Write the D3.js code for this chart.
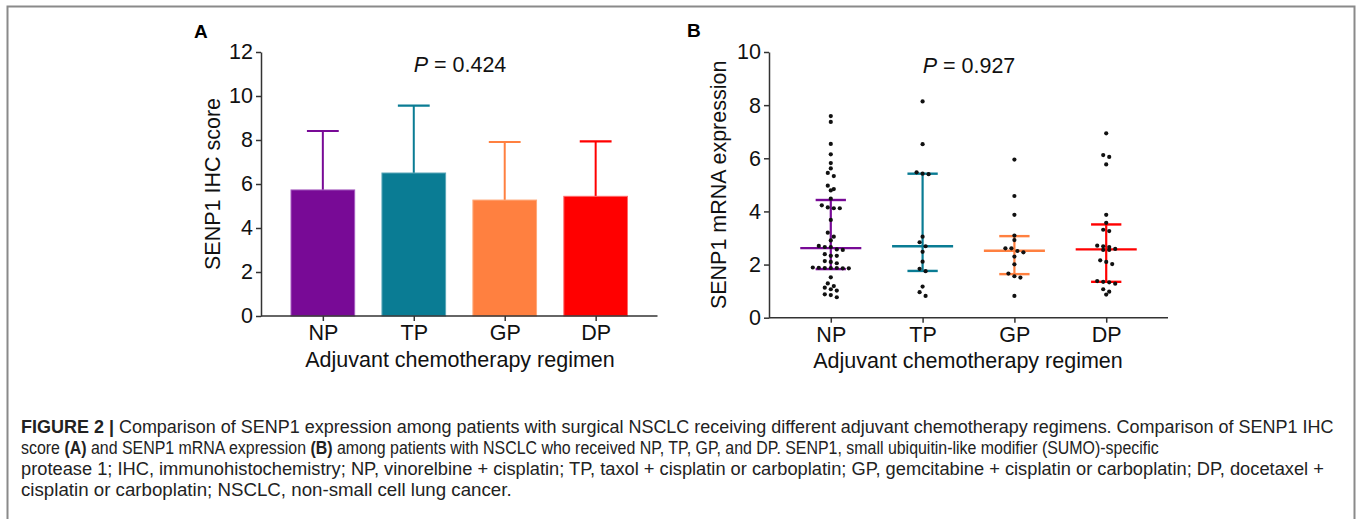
<!DOCTYPE html>
<html>
<head>
<meta charset="utf-8">
<script src="https://cdn.jsdelivr.net/npm/d3@7/dist/d3.min.js"></script>
<style>
  html, body { margin: 0; padding: 0; background: #fff; }
  svg { display: block; }
  text { font-family: "Liberation Sans", Arial, Helvetica, sans-serif; }
</style>
</head>
<body>
<svg id="fig" width="1357" height="519"></svg>
<script>
// ---------------- DATA ----------------
const categories = ["NP", "TP", "GP", "DP"];

// Panel A: SENP1 IHC score (mean and upper SD)
const ihcMean  = [5.73, 6.50, 5.27, 5.44];
const ihcUpper = [8.41, 9.56, 7.91, 7.94];
const ihcTicks = [0, 2, 4, 6, 8, 10, 12];
const ihcPLabel = "0.424";

// Panel B: SENP1 mRNA expression (individual patients)
const mrnaNP = [7.59, 7.37, 6.54, 6.15, 5.82, 5.62, 5.45, 5.33, 4.97, 4.84, 4.79, 4.48,
                4.23, 4.12, 4.12, 4.15, 3.68, 3.20, 3.05, 2.91, 2.70, 2.66, 2.57, 2.66,
                2.55, 2.39, 2.33, 2.33, 2.13, 2.10, 2.05, 1.89, 1.87, 1.87, 1.86, 1.86,
                1.87, 1.88, 1.52, 1.29, 1.19, 1.13, 1.07, 1.02, 0.88, 0.85, 0.77];
const mrnaTP = [8.14, 6.53, 5.47, 5.40, 5.42, 3.05, 2.84, 2.69, 2.48, 2.11, 1.84, 1.75,
                1.17, 0.96, 0.82];
const mrnaGP = [5.95, 4.58, 3.87, 3.09, 2.92, 2.61, 2.61, 2.46, 2.51, 2.30, 2.01, 1.66,
                1.56, 1.51, 0.82];
const mrnaDP = [6.94, 6.12, 6.05, 5.77, 3.87, 3.57, 3.31, 3.26, 2.71, 2.66, 2.69, 2.59,
                2.55, 2.55, 2.16, 2.10, 2.02, 1.38, 1.33, 1.28, 1.35, 1.07, 0.98, 0.87];
const mrnaMedian = [2.62, 2.69, 2.52, 2.57];
const mrnaQ1     = [1.83, 1.76, 1.64, 1.35];
const mrnaQ3     = [4.43, 5.42, 3.07, 3.51];
const mrnaTicks  = [0, 2, 4, 6, 8, 10];
const mrnaPLabel = "0.927";

const xTitle = "Adjuvant chemotherapy regimen";
const yTitleA = "SENP1 IHC score";
const yTitleB = "SENP1 mRNA expression";

const captionLines = [
  [["FIGURE 2 | ", true], ["Comparison of SENP1 expression among patients with surgical NSCLC receiving different adjuvant chemotherapy regimens. Comparison of SENP1 IHC", false]],
  [["score ", false], ["(A)", true], [" and SENP1 mRNA expression ", false], ["(B)", true], [" among patients with NSCLC who received NP, TP, GP, and DP. SENP1, small ubiquitin-like modifier (SUMO)-specific", false]],
  [["protease 1; IHC, immunohistochemistry; NP, vinorelbine + cisplatin; TP, taxol + cisplatin or carboplatin; GP, gemcitabine + cisplatin or carboplatin; DP, docetaxel +", false]],
  [["cisplatin or carboplatin; NSCLC, non-small cell lung cancer.", false]]
];

// ---------------- STYLE ----------------
const groupColors = ["#780a96", "#0a7c94", "#ff8040", "#ff0000"];
const groupStroke = ["#a55bc0", "#5aa6b8", "#ffa879", "#ff6a6a"];
const axisColor = "#333";
const fs = 21.5;

const svg = d3.select("#fig");

// Frame
svg.append("path")
  .attr("d", "M7.5,519 V6.5 H1354.5 V519")
  .attr("fill", "none").attr("stroke", "#8a8a8a").attr("stroke-width", 2);

function drawAxes(g, x, y, ticks, x0, x1, y0) {
  const yAx = d3.axisLeft(y).tickValues(ticks).tickSize(5).tickPadding(3).tickSizeOuter(0);
  const gy = g.append("g").attr("transform", `translate(${x0},0)`).call(yAx);
  gy.attr("font-size", fs).attr("font-family", "Liberation Sans, Arial, sans-serif");
  gy.select(".domain").attr("stroke", axisColor).attr("stroke-width", 1.5);
  gy.selectAll(".tick line").attr("stroke", axisColor).attr("stroke-width", 1.5);
  gy.selectAll(".tick text").attr("fill", "#111");

  const xAx = d3.axisBottom(x).tickSize(5).tickPadding(4).tickSizeOuter(0);
  const gx = g.append("g").attr("transform", `translate(0,${y0})`).call(xAx);
  gx.attr("font-size", fs).attr("font-family", "Liberation Sans, Arial, sans-serif");
  gx.select(".domain").attr("d", `M${x0},0H${x1}`).attr("stroke", axisColor).attr("stroke-width", 1.5);
  gx.selectAll(".tick line").attr("stroke", axisColor).attr("stroke-width", 1.5);
  gx.selectAll(".tick text").attr("fill", "#111").attr("dy", "0.72em");
}

// ---------------- PANEL A ----------------
{
  const x0 = 261, x1 = 657.5, yTop = 52, yBot = 316;
  const x = d3.scalePoint().domain(categories).range([x0, x1]).padding(0.68);
  const y = d3.scaleLinear().domain([0, 12]).range([yBot, yTop]);
  const g = svg.append("g");
  const bw = x.step() * 0.70, cw = x.step() * 0.35;

  categories.forEach((c, i) => {
    g.append("line").attr("x1", x(c)).attr("x2", x(c))
      .attr("y1", y(ihcMean[i])).attr("y2", y(ihcUpper[i]))
      .attr("stroke", groupColors[i]).attr("stroke-width", 2);
    g.append("line").attr("x1", x(c) - cw / 2).attr("x2", x(c) + cw / 2)
      .attr("y1", y(ihcUpper[i])).attr("y2", y(ihcUpper[i]))
      .attr("stroke", groupColors[i]).attr("stroke-width", 2.2);
  });
  g.selectAll("rect.bar").data(categories).join("rect")
    .attr("class", "bar")
    .attr("x", c => x(c) - bw / 2)
    .attr("width", bw)
    .attr("y", (c, i) => y(ihcMean[i]))
    .attr("height", (c, i) => yBot - y(ihcMean[i]))
    .attr("fill", (c, i) => groupColors[i])
    .attr("stroke", (c, i) => groupStroke[i]).attr("stroke-width", 1);

  drawAxes(g, x, y, ihcTicks, x0, x1, yBot);

  const pt = g.append("text").attr("x", 460).attr("y", 72).attr("text-anchor", "middle")
    .attr("font-size", fs).attr("fill", "#111");
  pt.append("tspan").attr("font-style", "italic").text("P");
  pt.append("tspan").text(" = " + ihcPLabel);

  g.append("text").attr("transform", `translate(220,${(yTop + yBot) / 2}) rotate(-90)`)
    .attr("text-anchor", "middle").attr("font-size", fs).attr("fill", "#111").text(yTitleA);
  g.append("text").attr("x", 460).attr("y", 367).attr("text-anchor", "middle")
    .attr("font-size", fs).attr("fill", "#111").text(xTitle);
  g.append("text").attr("x", 194).attr("y", 38).attr("font-size", 19).attr("font-weight", "bold")
    .attr("fill", "#000").text("A");
}

// ---------------- PANEL B ----------------
{
  const x0 = 769, x1 = 1168, yTop = 52, yBot = 317.7;
  const x = d3.scalePoint().domain(categories).range([x0, x1]).padding(0.673);
  const y = d3.scaleLinear().domain([0, 10]).range([yBot, yTop]);
  const g = svg.append("g");
  const mw = x.step() * 0.665, cw = x.step() * 0.33;
  const groups = [mrnaNP, mrnaTP, mrnaGP, mrnaDP];

  categories.forEach((c, i) => {
    const col = groupColors[i];
    const seg = (xa, xb, ya, yb, w) => g.append("line")
      .attr("x1", xa).attr("x2", xb).attr("y1", ya).attr("y2", yb)
      .attr("stroke", col).attr("stroke-width", w).attr("stroke-linecap", "butt");
    seg(x(c), x(c), y(mrnaQ1[i]), y(mrnaQ3[i]), 2.2);
    seg(x(c) - cw / 2, x(c) + cw / 2, y(mrnaQ1[i]), y(mrnaQ1[i]), 2.4);
    seg(x(c) - cw / 2, x(c) + cw / 2, y(mrnaQ3[i]), y(mrnaQ3[i]), 2.4);
    seg(x(c) - mw / 2, x(c) + mw / 2, y(mrnaMedian[i]), y(mrnaMedian[i]), 2.4);
  });

  // binned scatter (swarm) layout
  const dx = 6, binPx = 4;
  categories.forEach((c, i) => {
    const vals = groups[i].slice().sort((a, b) => b - a);
    const pts = [];
    let k = 0;
    while (k < vals.length) {
      const anchor = y(vals[k]);
      let j = k;
      while (j < vals.length && y(vals[j]) - anchor <= binPx) j++;
      const n = j - k;
      for (let m = 0; m < n; m++) {
        pts.push({ v: vals[k + m], off: (m - (n - 1) / 2) * dx });
      }
      k = j;
    }
    g.selectAll(null).data(pts).join("circle")
      .attr("cx", d => x(c) + d.off)
      .attr("cy", d => y(d.v))
      .attr("r", 2.1)
      .attr("fill", "#111");
  });

  drawAxes(g, x, y, mrnaTicks, x0, x1, yBot);

  const pt = g.append("text").attr("x", 969).attr("y", 73).attr("text-anchor", "middle")
    .attr("font-size", fs).attr("fill", "#111");
  pt.append("tspan").attr("font-style", "italic").text("P");
  pt.append("tspan").text(" = " + mrnaPLabel);

  g.append("text").attr("transform", `translate(726,${(yTop + yBot) / 2}) rotate(-90)`)
    .attr("text-anchor", "middle").attr("font-size", fs).attr("fill", "#111").text(yTitleB);
  g.append("text").attr("x", 968).attr("y", 368).attr("text-anchor", "middle")
    .attr("font-size", fs).attr("fill", "#111").text(xTitle);
  g.append("text").attr("x", 687).attr("y", 37).attr("font-size", 19).attr("font-weight", "bold")
    .attr("fill", "#000").text("B");
}

// ---------------- CAPTION ----------------
{
  const baselines = [433, 454, 475, 496];
  const widths = [1313, 1139, 1304, 491];
  captionLines.forEach((parts, li) => {
    const g = svg.append("g");
    const t = g.append("text").attr("x", 0).attr("y", 0)
      .attr("font-size", 18.5).attr("fill", "#222");
    parts.forEach(([s, b]) => {
      const ts = t.append("tspan").text(s);
      if (b) ts.attr("font-weight", "bold");
    });
    const w = t.node().getComputedTextLength();
    const sx = widths[li] / w;
    g.attr("transform", `translate(21,${baselines[li]}) scale(${sx},1)`);
  });
}
</script>
</body>
</html>
